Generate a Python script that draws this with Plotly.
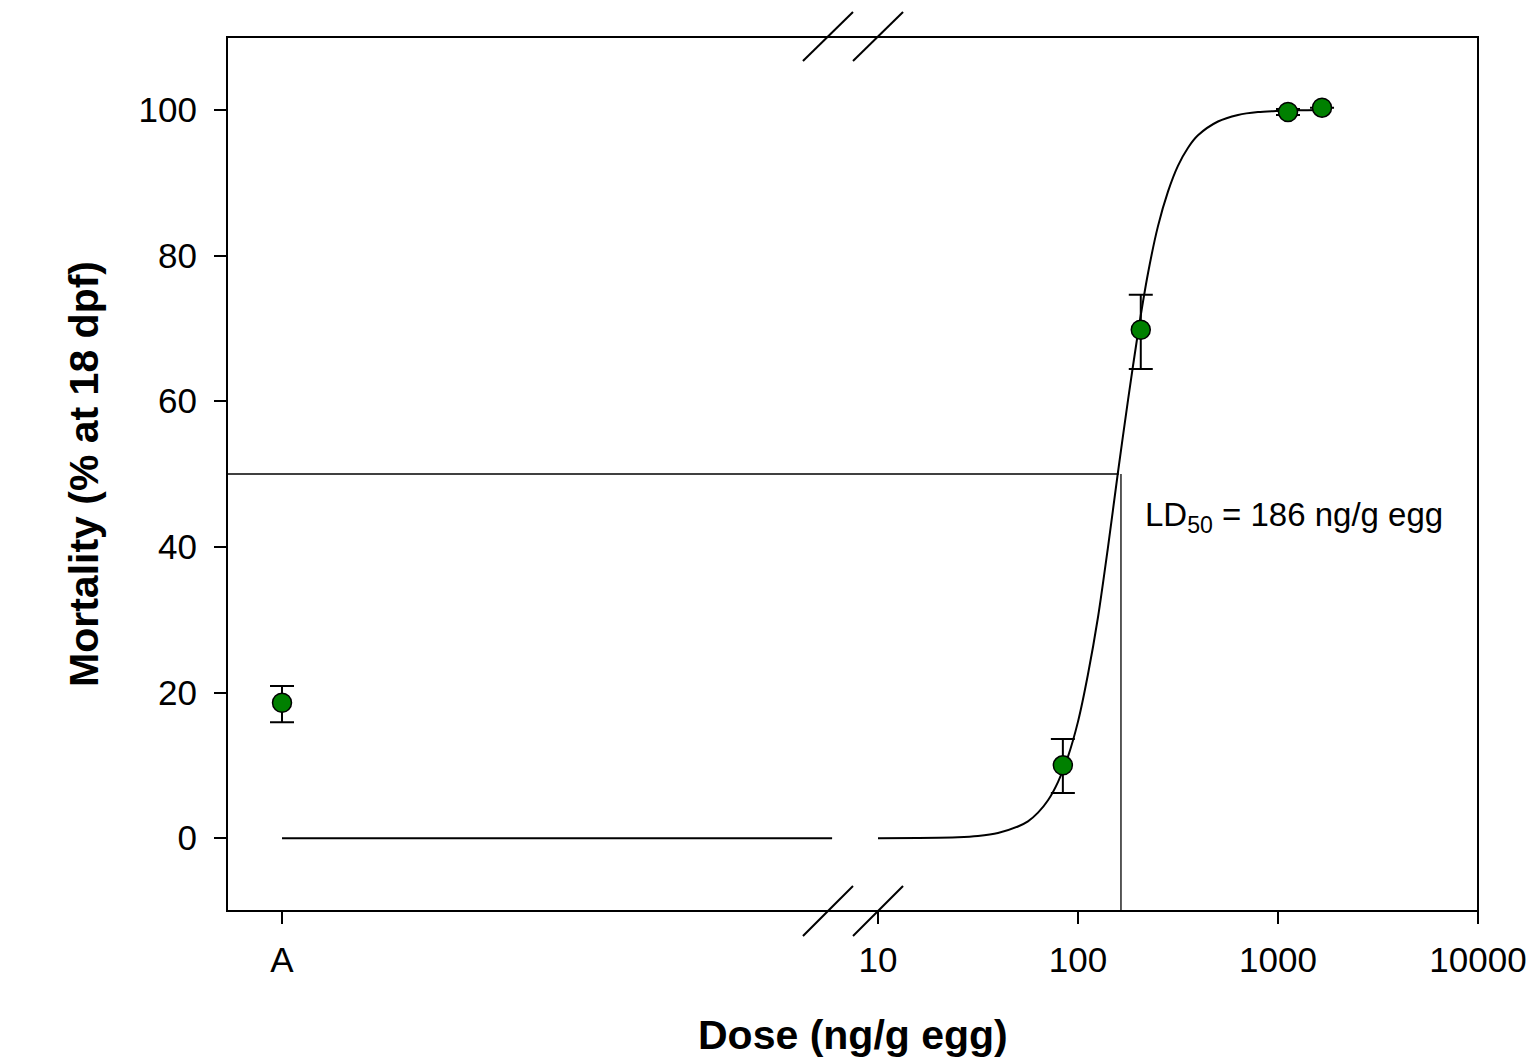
import plotly.graph_objects as go

# ---- data ----
control_label = ["A"]
control_pos = [0]
control_mort = [18.6]
control_err_plus = [2.3]
control_err_minus = [2.7]

dose = [84, 206, 1122, 1660]
mort = [10.0, 69.8, 99.7, 100.3]
err_plus = [3.6, 4.8, 0.4, 0.0]
err_minus = [3.8, 5.4, 0.4, 0.0]

# fitted curve
curve_dose = [10, 15.8, 25.1, 31.6, 39.8, 50.1, 56.2, 63.1, 70.8, 79.4, 89.1, 100, 112, 126,
              141, 158, 178, 200, 224, 251, 282, 316, 355, 398, 501, 631, 794, 1000, 1260, 1660]
curve_mort = [0.0, 0.03, 0.13, 0.3, 0.7, 1.6, 2.3, 3.5, 5.2, 7.7, 11.2, 16.0, 22.4, 30.4,
              39.8, 50.0, 60.2, 69.6, 77.6, 84.0, 88.8, 92.3, 94.8, 96.5, 98.4, 99.3, 99.7, 99.85, 99.93, 99.97]

# flat baseline on the control side of the break
baseline_x = [0, 10]
baseline_y = [0, 0]

ld50_dose = 160
ld50_vline_dose = 164
ld50_level = 50

x_ticks = [10, 100, 1000, 10000]
x_ticktext = ["10", "100", "1000", "10000"]
y_ticks = [0, 20, 40, 60, 80, 100]

FONT = "Liberation Sans, Arial, sans-serif"
GREEN = "#008000"

fig = go.Figure()

# reference lines at LD50
fig.add_trace(go.Scatter(x=[-1, 10.38], y=[ld50_level, ld50_level], mode="lines",
                         line=dict(color="black", width=1.3), xaxis="x", yaxis="y",
                         showlegend=False, hoverinfo="skip"))
fig.add_trace(go.Scatter(x=[10 ** 0.875, ld50_dose], y=[ld50_level, ld50_level], mode="lines",
                         line=dict(color="black", width=1.3), xaxis="x2", yaxis="y2",
                         showlegend=False, hoverinfo="skip"))
fig.add_trace(go.Scatter(x=[ld50_vline_dose, ld50_vline_dose], y=[ld50_level, -10], mode="lines",
                         line=dict(color="black", width=1.3), xaxis="x2", yaxis="y2",
                         showlegend=False, hoverinfo="skip"))

# baseline and fitted curve
fig.add_trace(go.Scatter(x=baseline_x, y=baseline_y, mode="lines",
                         line=dict(color="black", width=2), xaxis="x", yaxis="y",
                         showlegend=False))
fig.add_trace(go.Scatter(x=curve_dose, y=curve_mort, mode="lines",
                         line=dict(color="black", width=2, shape="spline", smoothing=0.8),
                         xaxis="x2", yaxis="y2", showlegend=False))

# data points
fig.add_trace(go.Scatter(x=control_pos, y=control_mort, mode="markers",
                         marker=dict(size=19, color=GREEN, line=dict(color="black", width=1.5)),
                         error_y=dict(type="data", symmetric=False, array=control_err_plus,
                                      arrayminus=control_err_minus, color="black", thickness=2, width=12),
                         xaxis="x", yaxis="y", showlegend=False))
fig.add_trace(go.Scatter(x=dose, y=mort, mode="markers",
                         marker=dict(size=19, color=GREEN, line=dict(color="black", width=1.5)),
                         error_y=dict(type="data", symmetric=False, array=err_plus,
                                      arrayminus=err_minus, color="black", thickness=2, width=12),
                         xaxis="x2", yaxis="y2", showlegend=False))

split = 0.5004
common_x = dict(showgrid=False, zeroline=False, showline=False, ticks="outside", ticklen=12,
                tickwidth=2, tickcolor="black", ticklabelstandoff=6, automargin=False,
                tickfont=dict(family=FONT, size=35, color="black"))

fig.update_layout(
    width=1527, height=1057, autosize=False,
    margin=dict(l=227, r=49, t=37, b=146, autoexpand=False),
    plot_bgcolor="white", paper_bgcolor="white",
    font=dict(family=FONT, color="black"),
    xaxis=dict(domain=[0, split], range=[-1, 10.38], tickvals=control_pos, ticktext=control_label,
               anchor="y", **common_x),
    xaxis2=dict(domain=[split, 1], type="log", range=[0.875, 4], tickvals=x_ticks, ticktext=x_ticktext,
                anchor="y2", **common_x),
    yaxis=dict(domain=[0, 1], range=[-10, 110], tickvals=y_ticks, anchor="x",
               showgrid=False, zeroline=False, showline=False, ticks="outside", ticklen=12,
               tickwidth=2, tickcolor="black", ticklabelstandoff=10, automargin=False,
               tickfont=dict(family=FONT, size=35, color="black"),
               title=dict(text="<b>Mortality (% at 18 dpf)</b>", font=dict(family=FONT, size=41),
                          standoff=27)),
    yaxis2=dict(domain=[0, 1], matches="y", anchor="x2", showticklabels=False, ticks="",
                showgrid=False, zeroline=False, showline=False),
    annotations=[
        dict(text="<b>Dose (ng/g egg)</b>", xref="paper", yref="paper", x=0.5004, y=-0.142,
             xanchor="center", yanchor="middle", showarrow=False,
             font=dict(family=FONT, size=41, color="black")),
        dict(text="LD<sub>50</sub> = 186 ng/g egg", xref="paper", yref="paper", x=0.7322, y=0.4508,
             xanchor="left", yanchor="middle", showarrow=False,
             font=dict(family=FONT, size=33, color="black")),
    ],
    shapes=[
        dict(type="rect", xref="paper", yref="paper", x0=0, x1=1, y0=0, y1=1,
             line=dict(color="black", width=2)),
        dict(type="line", xref="paper", yref="paper", x0=0.4604, x1=0.5004, y0=0.9725, y1=1.0286,
             line=dict(color="black", width=2)),
        dict(type="line", xref="paper", yref="paper", x0=0.5004, x1=0.5404, y0=0.9725, y1=1.0286,
             line=dict(color="black", width=2)),
        dict(type="line", xref="paper", yref="paper", x0=0.4604, x1=0.5004, y0=-0.0286, y1=0.0286,
             line=dict(color="black", width=2)),
        dict(type="line", xref="paper", yref="paper", x0=0.5004, x1=0.5404, y0=-0.0286, y1=0.0286,
             line=dict(color="black", width=2)),
    ],
)

fig.write_html("out.html", config={"displayModeBar": False},
               post_script="document.body.style.margin='0';document.body.style.overflow='hidden';")
